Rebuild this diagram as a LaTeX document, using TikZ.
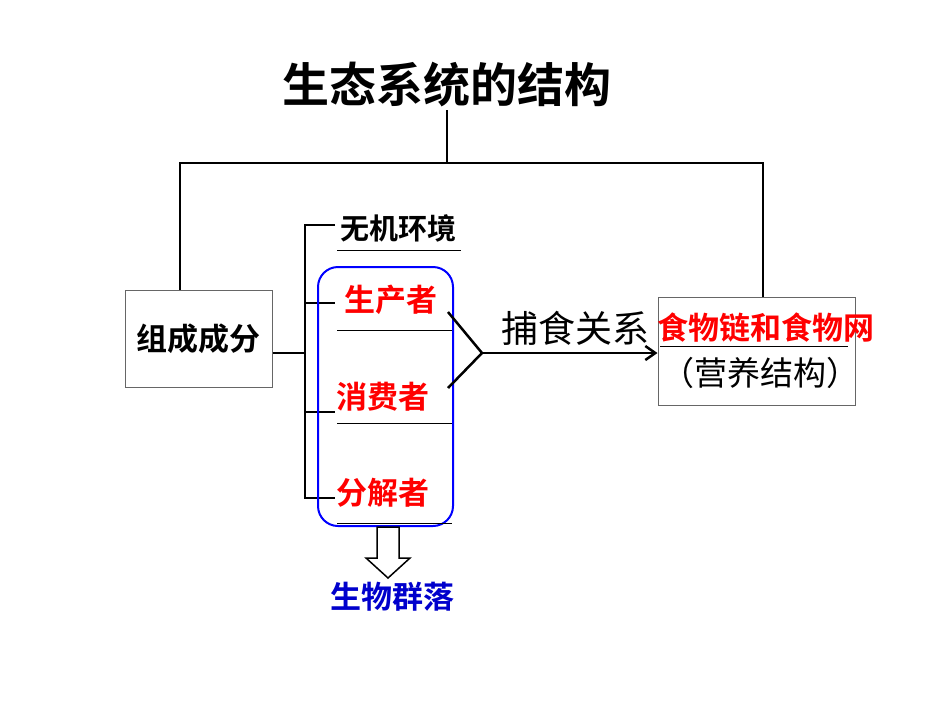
\documentclass[tikz,border=0pt]{standalone}
\usetikzlibrary{arrows.meta}
\usepackage{fontspec}
\newfontfamily\cjk{Noto Sans CJK SC}
\newfontfamily\cjkb{Noto Sans CJK SC Bold}
\begin{document}
\begin{tikzpicture}[x=1pt,y=-1pt,
  ln/.style={line width=2.5pt,black},
  bx/.style={draw=gray!80!black,line width=1pt,fill=white},
  ul/.style={line width=1pt,black},
  bt/.style={font=\cjkb\fontsize{31}{31}\selectfont,inner sep=0pt},
  rt/.style={bt,text=red},
  nt/.style={font=\cjk\fontsize{37}{37}\selectfont,inner sep=0pt}]
\useasboundingbox (0,0) rectangle (950,713);
\fill[white] (0,0) rectangle (950,713);
\node[font=\cjkb\fontsize{47}{47}\selectfont,inner sep=0pt] (title) at (447,85) {生态系统的结构};
\coordinate (tj) at (447,163);
\node[bx,minimum width=147pt,minimum height=97pt] (left) at (198.5,338.5) {};
\node[bt] at (left) {组成成分};
\node[bx,minimum width=197pt,minimum height=108pt] (right) at (756.5,351) {};
\draw[ln] (447,110) -- (tj);
\draw[ln] (180,290) |- (763,163) -- (763,297);
\draw[ln] (left.east |- 0,353) -- (305,353);
\draw[ln] (335,225) -- (305,225) -- (305,498) -- (335,498);
\draw[ln] (305,303) -- (335,303);
\draw[ln] (305,412) -- (335,412);
\draw[blue,line width=2pt,rounded corners=20pt] (318,267) rectangle (453,526);
\node[bt,font=\cjkb\fontsize{29}{29}\selectfont] (abio) at (398,228) {无机环境};
\draw[ul] (337,250) -- (461,250);
\node[rt] (prod) at (391,300) {生产者};
\draw[ul] (337,330) -- (452,330);
\node[rt] (cons) at (383,397) {消费者};
\draw[ul] (337,423) -- (452,423);
\node[rt] (deco) at (383,493) {分解者};
\draw[ul] (337,523) -- (452,523);
\coordinate (fk) at (482,353);
\draw[ln] (448,312) -- (fk) -- (448,388);
\draw[ln,-{Straight Barb[length=10pt,width=14pt]}] (fk) -- (right.west |- fk);
\node[nt] (pred) at (575,328) {捕食关系};
\node[rt,font=\cjkb\fontsize{31}{31}\selectfont] (food) at (766,328) {食物链和食物网};
\draw[ul] (660,346) -- (848,346);
\node[nt,font=\cjk\fontsize{33}{33}\selectfont] (troph) at (760,373) {（营养结构）};
\draw[line width=1.5pt,fill=white] (377,527) -- (399,527) -- (399,558) -- (410,558) -- (388,578) -- (366,558) -- (377,558) -- cycle;
\node[bt,text=blue!80!black] (comm) at (392,597) {生物群落};
\end{tikzpicture}
\end{document}
